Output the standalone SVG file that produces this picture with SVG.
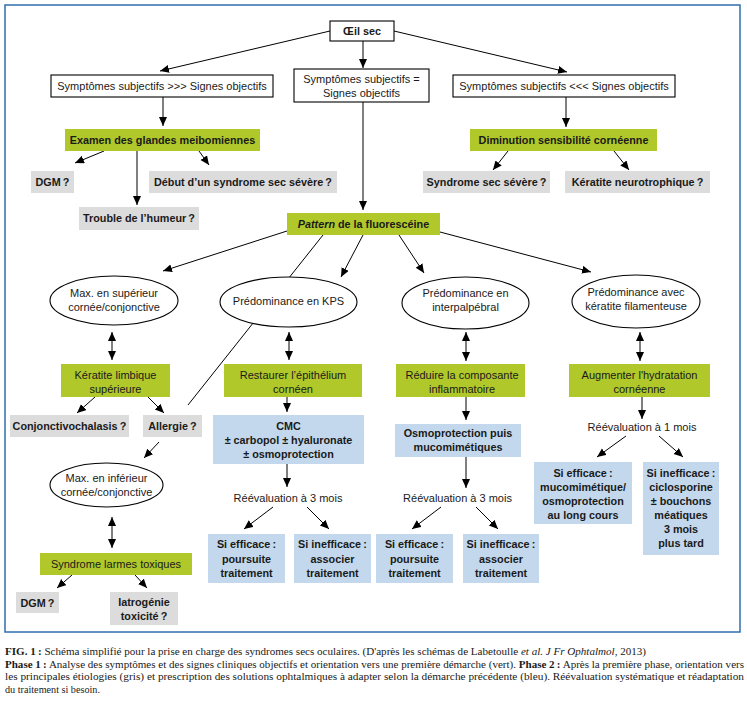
<svg xmlns="http://www.w3.org/2000/svg" width="747" height="701" viewBox="0 0 747 701">
<style>
text{font-family:"Liberation Sans",Arial,sans-serif;font-size:11px;fill:#1a1a1a;text-anchor:middle}
.b{font-weight:bold;font-size:10.8px}
.cap{font-family:"Liberation Serif","Times New Roman",serif;font-size:11px;text-anchor:start}
.w{fill:#fff;stroke:#000;stroke-width:1.1}
.g{fill:#b0c82a}
.gr{fill:#dcdcdc}
.bl{fill:#c3d8ec}
.c path{fill:none;stroke:#000;stroke-width:1}
.a{marker-end:url(#ah)}
.d{marker-end:url(#ah);marker-start:url(#ah)}
</style>
<defs>
<marker id="ah" markerUnits="userSpaceOnUse" markerWidth="10" markerHeight="9" refX="9" refY="4" orient="auto-start-reverse"><path d="M0,0 L9,4 L0,8 z" fill="#000"/></marker>
</defs>
<rect x="0" y="0" width="747" height="701" fill="#fff"/>
<rect x="5" y="5" width="735" height="627" fill="none" stroke="#2f6fae" stroke-width="1.5"/>

<g id="connectors" class="c">
<path class="a" d="M330,31 L160,71"/>
<path class="a" d="M363,41 L363,68"/>
<path class="a" d="M394,31 L567,72"/>
<path class="a" d="M163,97 L163,126"/>
<path class="a" d="M104,151 L75,163"/>
<path class="a" d="M137,151 L137,205"/>
<path class="a" d="M199,151 L209,165"/>
<path class="a" d="M363,102 L363,210"/>
<path class="a" d="M566,97 L566,127"/>
<path class="a" d="M508,151 L493,170"/>
<path class="a" d="M614,151 L629,170"/>
<path class="a" d="M287,231 L163,271"/>
<path d="M323,235 L188,405"/>
<path class="a" d="M363,235 L341,277"/>
<path class="a" d="M399,235 L424,273"/>
<path class="a" d="M440,232 L591,272"/>
<path class="d" d="M112,332 L112,360"/>
<path class="d" d="M289,332 L289,360"/>
<path class="d" d="M466,332 L466,361"/>
<path class="d" d="M640,332 L640,361"/>
<path class="a" d="M95,397 L77,413"/>
<path class="a" d="M148,397 L164,413"/>
<path class="a" d="M287,397 L287,412"/>
<path class="a" d="M287,464 L287,487"/>
<path class="a" d="M273,507 L244,529"/>
<path class="a" d="M307,507 L329,529"/>
<path class="a" d="M466,397 L466,420"/>
<path class="a" d="M466,457 L466,488"/>
<path class="a" d="M441,507 L412,529"/>
<path class="a" d="M476,507 L498,529"/>
<path class="a" d="M642,397 L642,419"/>
<path class="a" d="M626,436 L597,457"/>
<path class="a" d="M659,436 L683,457"/>
<path class="a" d="M159,442 L144,458"/>
<path class="d" d="M112,517 L112,548"/>
<path class="a" d="M72,575 L57,588"/>
<path class="a" d="M135,575 L147,588"/>
</g>

<g id="oeil"><rect class="w" x="330" y="21" width="64" height="20"/><text class="b" x="362" y="35">Œil sec</text></g>
<g id="sympt-sup"><rect class="w" x="51" y="75" width="222" height="22"/><text x="162" y="90">Symptômes subjectifs &gt;&gt;&gt; Signes objectifs</text></g>
<g id="sympt-eq"><rect class="w" x="294" y="69" width="135" height="33"/><text x="361.5" y="83">Symptômes subjectifs =</text><text x="361.5" y="97">Signes objectifs</text></g>
<g id="sympt-inf"><rect class="w" x="453" y="75" width="222" height="22"/><text x="564" y="90">Symptômes subjectifs &lt;&lt;&lt; Signes objectifs</text></g>

<g id="examen"><rect class="g" x="65" y="129" width="195" height="22"/><text class="b" x="162.5" y="144">Examen des glandes meibomiennes</text></g>
<g id="dgm1"><rect class="gr" x="31" y="171" width="43" height="22"/><text class="b" x="52.5" y="186">DGM&#8201;?</text></g>
<g id="debut"><rect class="gr" x="149" y="171" width="188" height="22"/><text class="b" x="243" y="186">Début d’un syndrome sec sévère&#8201;?</text></g>
<g id="trouble"><rect class="gr" x="79" y="207" width="120" height="23"/><text class="b" x="139" y="222">Trouble de l’humeur&#8201;?</text></g>

<g id="diminution"><rect class="g" x="470" y="129" width="187" height="22"/><text class="b" x="563.5" y="144">Diminution sensibilité cornéenne</text></g>
<g id="sss"><rect class="gr" x="423" y="171" width="127" height="22"/><text class="b" x="486.5" y="186">Syndrome sec sévère&#8201;?</text></g>
<g id="neuro"><rect class="gr" x="565" y="171" width="145" height="22"/><text class="b" x="637.5" y="186">Kératite neurotrophique&#8201;?</text></g>

<g id="pattern"><rect class="g" x="287" y="213" width="153" height="22"/><text class="b" x="363.5" y="228"><tspan font-style="italic">Pattern</tspan> de la fluorescéine</text></g>

<g id="maxsup"><ellipse class="w" cx="114" cy="300.5" rx="64" ry="24.5"/><text x="114" y="297">Max. en supérieur</text><text x="114" y="311">cornée/conjonctive</text></g>
<g id="kps"><ellipse class="w" cx="288.5" cy="302" rx="68.5" ry="25"/><text x="288.5" y="305">Prédominance en KPS</text></g>
<g id="interp"><ellipse class="w" cx="465.5" cy="303" rx="63.5" ry="26"/><text x="465.5" y="297">Prédominance en</text><text x="465.5" y="311">interpalpébral</text></g>
<g id="filam"><ellipse class="w" cx="636" cy="301.5" rx="64" ry="26.5"/><text x="636" y="296">Prédominance avec</text><text x="636" y="310">kératite filamenteuse</text></g>

<g id="klimb"><rect class="g" x="61" y="364" width="109" height="33"/><text x="115.5" y="379">Kératite limbique</text><text x="115.5" y="393">supérieure</text></g>
<g id="restaurer"><rect class="g" x="224" y="364" width="138" height="33"/><text x="293" y="379">Restaurer l’épithélium</text><text x="293" y="393">cornéen</text></g>
<g id="reduire"><rect class="g" x="396" y="364" width="129" height="33"/><text x="462" y="379">Réduire la composante</text><text x="462" y="393">inflammatoire</text></g>
<g id="augmenter"><rect class="g" x="569" y="364" width="141" height="33"/><text x="639.5" y="379">Augmenter l'hydratation</text><text x="639.5" y="393">cornéenne</text></g>

<g id="conj"><rect class="gr" x="10" y="415" width="119" height="22"/><text class="b" x="69.5" y="430">Conjonctivochalasis&#8201;?</text></g>
<g id="allergie"><rect class="gr" x="143" y="415" width="59" height="22"/><text class="b" x="172.5" y="430">Allergie&#8201;?</text></g>

<g id="cmc"><rect class="bl" x="213" y="415" width="151" height="49"/><text class="b" x="288.5" y="430">CMC</text><text class="b" x="288.5" y="444">± carbopol ± hyaluronate</text><text class="b" x="288.5" y="458">± osmoprotection</text></g>
<g id="reev1"><text x="288" y="502">Réévaluation à 3 mois</text></g>
<g id="eff1"><rect class="bl" x="208" y="534" width="77" height="49"/><text class="b" x="246.5" y="548">Si efficace&#8201;:</text><text class="b" x="246.5" y="563">poursuite</text><text class="b" x="246.5" y="577">traitement</text></g>
<g id="ineff1"><rect class="bl" x="294" y="534" width="77" height="49"/><text class="b" x="332.5" y="548">Si inefficace&#8201;:</text><text class="b" x="332.5" y="563">associer</text><text class="b" x="332.5" y="577">traitement</text></g>

<g id="osmo"><rect class="bl" x="395" y="424" width="126" height="33"/><text class="b" x="458" y="437">Osmoprotection puis</text><text class="b" x="458" y="451">mucomimétiques</text></g>
<g id="reev2"><text x="457.5" y="502">Réévaluation à 3 mois</text></g>
<g id="eff2"><rect class="bl" x="376" y="534" width="77" height="49"/><text class="b" x="414.5" y="548">Si efficace&#8201;:</text><text class="b" x="414.5" y="563">poursuite</text><text class="b" x="414.5" y="577">traitement</text></g>
<g id="ineff2"><rect class="bl" x="463" y="534" width="76" height="49"/><text class="b" x="501" y="548">Si inefficace&#8201;:</text><text class="b" x="501" y="563">associer</text><text class="b" x="501" y="577">traitement</text></g>

<g id="reev3"><text x="642" y="431">Réévaluation à 1 mois</text></g>
<g id="eff3"><rect class="bl" x="534" y="462" width="98" height="62"/><text class="b" x="583" y="477">Si efficace&#8201;:</text><text class="b" x="583" y="491">mucomimétique/</text><text class="b" x="583" y="505">osmoprotection</text><text class="b" x="583" y="519">au long cours</text></g>
<g id="ineff3"><rect class="bl" x="643" y="462" width="76" height="93"/><text class="b" x="681" y="477">Si inefficace&#8201;:</text><text class="b" x="681" y="491">ciclosporine</text><text class="b" x="681" y="505">± bouchons</text><text class="b" x="681" y="519">méatiques</text><text class="b" x="681" y="533">3 mois</text><text class="b" x="681" y="547">plus tard</text></g>

<g id="maxinf"><ellipse class="w" cx="106.5" cy="485" rx="56.5" ry="22"/><text x="106.5" y="482">Max. en inférieur</text><text x="106.5" y="496">cornée/conjonctive</text></g>
<g id="larmes"><rect class="g" x="40" y="553" width="152" height="22"/><text x="116" y="568">Syndrome larmes toxiques</text></g>
<g id="dgm2"><rect class="gr" x="16" y="592" width="43" height="21"/><text class="b" x="37.5" y="607">DGM&#8201;?</text></g>
<g id="iatro"><rect class="gr" x="110" y="592" width="68" height="33"/><text class="b" x="144" y="606">Iatrogénie</text><text class="b" x="144" y="620">toxicité&#8201;?</text></g>

<g id="caption">
<text class="cap" x="5" y="655" textLength="641" lengthAdjust="spacingAndGlyphs"><tspan font-weight="bold">FIG. 1&#8201;:</tspan> Schéma simplifié pour la prise en charge des syndromes secs oculaires. (D'après les schémas de Labetoulle <tspan font-style="italic">et al. J Fr Ophtalmol</tspan>, 2013)</text>
<text class="cap" x="5" y="667.5" textLength="739" lengthAdjust="spacingAndGlyphs"><tspan font-weight="bold">Phase 1&#8201;:</tspan> Analyse des symptômes et des signes cliniques objectifs et orientation vers une première démarche (vert). <tspan font-weight="bold">Phase 2&#8201;:</tspan> Après la première phase, orientation vers</text>
<text class="cap" x="5" y="680" textLength="739" lengthAdjust="spacingAndGlyphs">les principales étiologies (gris) et prescription des solutions ophtalmiques à adapter selon la démarche précédente (bleu). Réévaluation systématique et réadaptation</text>
<text class="cap" x="5" y="692.5" textLength="95" lengthAdjust="spacingAndGlyphs">du traitement si besoin.</text>
</g>
</svg>
